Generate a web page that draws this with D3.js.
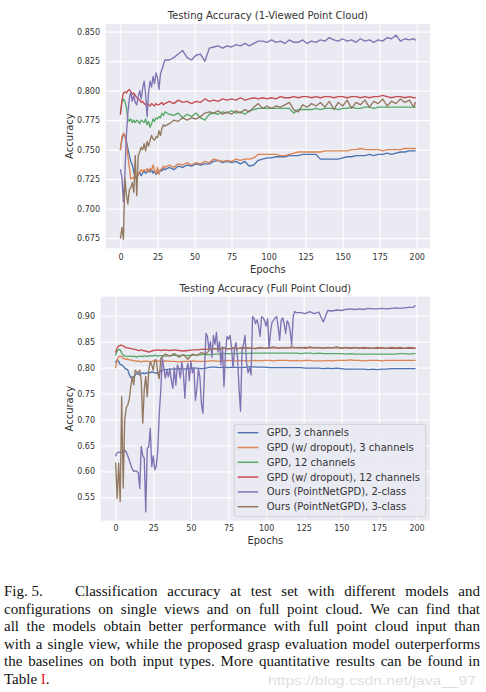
<!DOCTYPE html>
<html><head><meta charset="utf-8">
<script src="https://cdn.jsdelivr.net/npm/d3@7"></script>
<style>html,body{margin:0;padding:0;background:#fff;} svg{display:block;}</style>
</head><body>
<svg id="chart" width="486" height="692"></svg>
<script>
// ---------- DATA ----------
const epochs = [0,1,2,3,4,5,6,7,8,9,10,11,12,13,14,15,16,17,18,19,20,21,22,23,24,25,26,27,28,29,
  30,33,36,39,42,45,48,51,54,57,
  60,63,66,69,72,75,78,81,84,87,
  90,93,96,99,102,105,108,111,114,117,
  120,123,126,129,132,135,138,141,144,147,
  150,153,156,159,162,165,168,171,174,177,
  180,183,186,189,192,195,198,199];
// finer epoch grid for the very noisy 2-class curve (full point cloud)
const epochsFine = [0,1,2,3,4,5,6,7,8,9,10,11,12,13,14,15,16,17,18,19,20,21,22,23,24,25,26,27,28,29,
  30,31,32,33,34,35,36,37,38,39,40,41,42,43,44,45,46,47,48,49,
  50,51,52,53,54,55,56,57,58,59,60,61,62,63,64,65,66,67,68,69,
  70,71,72,73,74,75,76,77,78,79,80,81,82,83,84,85,86,87,88,89,
  90,91,92,93,94,95,96,97,98,99,100,101,102,103,104,105,106,107,108,109,
  110,111,112,113,114,115,116,117,118,119,120,
  123,126,129,132,135,138,141,144,147,
  150,153,156,159,162,165,168,171,174,177,
  180,183,186,189,192,195,198,199];

const seriesNames = ["GPD, 3 channels","GPD (w/ dropout), 3 channels","GPD, 12 channels",
  "GPD (w/ dropout), 12 channels","Ours (PointNetGPD), 2-class","Ours (PointNetGPD), 3-class"];
const seriesColors = ["#4C72B0","#DD8452","#55A868","#C44E52","#8172B3","#937860"];

// Top panel: 1-viewed point cloud
const topBlue = [0.750,0.759,0.763,0.762,0.757,0.751,0.745,0.740,0.737,0.731,0.727,0.725,0.729,0.731,0.728,0.730,0.732,0.730,0.731,0.733,0.731,0.733,0.730,0.732,0.729,0.731,0.730,0.733,0.732,0.734,
  0.733,0.735,0.733,0.736,0.735,0.737,0.736,0.738,0.737,0.738,
  0.738,0.740,0.741,0.739,0.740,0.739,0.740,0.738,0.740,0.736,
  0.737,0.741,0.742,0.743,0.743,0.744,0.744,0.744,0.745,0.745,
  0.745,0.746,0.746,0.746,0.746,0.742,0.742,0.742,0.742,0.742,
  0.743,0.744,0.744,0.745,0.745,0.745,0.746,0.745,0.746,0.746,
  0.747,0.746,0.747,0.748,0.748,0.749,0.749,0.749];
const topOrange = [0.750,0.761,0.764,0.762,0.756,0.745,0.735,0.725,0.726,0.726,0.728,0.726,0.729,0.731,0.733,0.731,0.733,0.732,0.734,0.731,0.734,0.733,0.737,0.732,0.730,0.735,0.729,0.733,0.734,0.736,
  0.735,0.737,0.735,0.738,0.737,0.739,0.737,0.739,0.738,0.740,
  0.739,0.742,0.741,0.740,0.741,0.740,0.742,0.741,0.742,0.742,
  0.743,0.746,0.746,0.746,0.746,0.746,0.745,0.745,0.746,0.747,
  0.748,0.748,0.748,0.748,0.748,0.748,0.749,0.749,0.749,0.749,
  0.749,0.749,0.750,0.750,0.751,0.750,0.750,0.750,0.750,0.749,
  0.750,0.750,0.750,0.750,0.751,0.751,0.751,0.751];
const topGreen = [0.781,0.790,0.793,0.791,0.786,0.776,0.774,0.776,0.773,0.775,0.773,0.775,0.774,0.772,0.775,0.774,0.773,0.776,0.771,0.774,0.769,0.772,0.776,0.774,0.777,0.776,0.778,0.777,0.781,0.779,
  0.782,0.780,0.779,0.781,0.777,0.780,0.778,0.781,0.777,0.775,
  0.780,0.781,0.780,0.782,0.781,0.783,0.781,0.782,0.780,0.783,
  0.784,0.785,0.785,0.785,0.785,0.785,0.785,0.785,0.785,0.781,
  0.784,0.784,0.784,0.784,0.785,0.784,0.785,0.785,0.785,0.784,
  0.785,0.785,0.786,0.785,0.785,0.786,0.786,0.785,0.786,0.786,
  0.786,0.786,0.786,0.786,0.786,0.786,0.786,0.786];
const topRed = [0.780,0.792,0.798,0.799,0.798,0.800,0.801,0.799,0.797,0.798,0.796,0.794,0.793,0.792,0.790,0.791,0.789,0.788,0.789,0.788,0.787,0.789,0.788,0.787,0.789,0.788,0.788,0.789,0.790,0.788,
  0.789,0.791,0.789,0.792,0.790,0.791,0.789,0.791,0.790,0.793,
  0.791,0.792,0.791,0.793,0.792,0.793,0.792,0.794,0.792,0.793,
  0.794,0.793,0.794,0.793,0.794,0.793,0.795,0.794,0.794,0.795,
  0.794,0.795,0.795,0.794,0.795,0.794,0.795,0.795,0.794,0.795,
  0.795,0.794,0.795,0.795,0.794,0.795,0.794,0.795,0.795,0.796,
  0.795,0.794,0.795,0.795,0.794,0.795,0.794,0.794];
const topPurple = [0.733,0.726,0.706,0.729,0.762,0.781,0.793,0.799,0.791,0.796,0.790,0.788,0.795,0.800,0.793,0.802,0.808,0.797,0.778,0.799,0.808,0.803,0.812,0.806,0.815,0.811,0.801,0.814,0.818,0.822,
  0.826,0.826,0.828,0.831,0.834,0.828,0.826,0.830,0.831,0.825,
  0.836,0.837,0.838,0.836,0.838,0.837,0.839,0.838,0.840,0.838,
  0.840,0.842,0.842,0.841,0.843,0.841,0.842,0.840,0.843,0.841,
  0.841,0.843,0.840,0.842,0.841,0.843,0.842,0.845,0.843,0.842,
  0.844,0.842,0.843,0.841,0.844,0.842,0.843,0.841,0.843,0.842,
  0.845,0.844,0.847,0.842,0.844,0.843,0.844,0.843];
const topBrown = [0.675,0.684,0.674,0.726,0.712,0.704,0.716,0.718,0.722,0.714,0.745,0.711,0.745,0.748,0.752,0.750,0.755,0.749,0.757,0.753,0.758,0.762,0.759,0.758,0.761,0.760,0.766,0.762,0.768,0.771,
  0.770,0.772,0.775,0.774,0.777,0.775,0.777,0.776,0.778,0.781,
  0.782,0.781,0.783,0.780,0.782,0.780,0.783,0.781,0.784,0.782,
  0.786,0.789,0.785,0.787,0.785,0.787,0.786,0.788,0.790,0.784,
  0.782,0.788,0.786,0.789,0.787,0.790,0.786,0.791,0.784,0.790,
  0.787,0.792,0.785,0.790,0.788,0.792,0.786,0.791,0.789,0.793,
  0.787,0.791,0.789,0.793,0.790,0.792,0.786,0.790];

// Bottom panel: full point cloud
const botBlue = [0.811,0.815,0.812,0.806,0.805,0.803,0.799,0.797,0.796,0.787,0.781,0.780,0.782,0.786,0.789,0.788,0.786,0.789,0.790,0.788,0.790,0.789,0.791,0.790,0.792,0.791,0.790,0.789,0.791,0.790,
  0.794,0.796,0.797,0.797,0.798,0.797,0.798,0.799,0.799,0.798,
  0.799,0.801,0.801,0.800,0.801,0.800,0.801,0.800,0.800,0.801,
  0.802,0.801,0.801,0.801,0.800,0.800,0.800,0.800,0.800,0.800,
  0.800,0.800,0.799,0.799,0.799,0.799,0.798,0.799,0.798,0.799,
  0.798,0.797,0.797,0.797,0.797,0.797,0.796,0.797,0.796,0.797,
  0.797,0.798,0.798,0.798,0.798,0.798,0.798,0.798];
const botOrange = [0.800,0.814,0.821,0.822,0.821,0.818,0.817,0.816,0.816,0.815,0.815,0.814,0.813,0.813,0.812,0.813,0.812,0.811,0.812,0.812,0.813,0.812,0.812,0.811,0.812,0.813,0.812,0.813,0.812,0.813,
  0.812,0.813,0.812,0.812,0.811,0.812,0.812,0.813,0.812,0.812,
  0.812,0.813,0.813,0.812,0.813,0.814,0.813,0.813,0.814,0.813,
  0.813,0.814,0.813,0.814,0.814,0.813,0.814,0.814,0.814,0.813,
  0.814,0.813,0.814,0.814,0.813,0.813,0.813,0.814,0.813,0.814,
  0.814,0.814,0.815,0.814,0.814,0.813,0.814,0.814,0.814,0.813,
  0.814,0.814,0.814,0.814,0.814,0.814,0.814,0.814];
const botGreen = [0.824,0.832,0.835,0.834,0.828,0.824,0.822,0.822,0.821,0.822,0.822,0.821,0.822,0.821,0.820,0.822,0.821,0.822,0.821,0.823,0.822,0.821,0.823,0.822,0.823,0.822,0.824,0.823,0.822,0.823,
  0.823,0.822,0.823,0.824,0.823,0.824,0.823,0.824,0.824,0.825,
  0.825,0.825,0.826,0.826,0.827,0.827,0.827,0.827,0.828,0.827,
  0.828,0.828,0.828,0.828,0.828,0.828,0.828,0.828,0.828,0.828,
  0.828,0.827,0.828,0.828,0.827,0.828,0.827,0.827,0.827,0.827,
  0.827,0.826,0.827,0.826,0.826,0.826,0.826,0.826,0.826,0.826,
  0.826,0.826,0.826,0.827,0.827,0.826,0.827,0.827];
const botRed = [0.830,0.838,0.842,0.843,0.843,0.842,0.840,0.838,0.838,0.837,0.837,0.836,0.835,0.835,0.834,0.833,0.833,0.834,0.833,0.832,0.832,0.831,0.830,0.831,0.832,0.833,0.833,0.834,0.833,0.834,
  0.833,0.834,0.833,0.834,0.833,0.832,0.833,0.834,0.834,0.835,
  0.835,0.836,0.836,0.837,0.837,0.836,0.837,0.837,0.837,0.838,
  0.837,0.837,0.838,0.837,0.838,0.838,0.838,0.838,0.838,0.838,
  0.838,0.838,0.839,0.838,0.838,0.838,0.838,0.838,0.838,0.838,
  0.838,0.838,0.837,0.838,0.838,0.837,0.838,0.837,0.837,0.838,
  0.837,0.837,0.837,0.837,0.837,0.837,0.837,0.837];
// on epochsFine
const botPurple = [0.630,0.636,0.637,0.636,0.637,0.635,0.641,0.638,0.630,0.622,0.613,0.605,0.600,0.601,0.600,0.598,0.567,0.648,0.630,0.626,0.522,0.644,0.647,0.683,0.609,0.630,0.603,0.610,0.641,0.712,
  0.757,0.818,0.800,0.780,0.795,0.782,0.798,0.775,0.760,0.800,
  0.766,0.805,0.798,0.780,0.810,0.790,0.741,0.795,0.808,0.775,
  0.812,0.790,0.800,0.737,0.760,0.798,0.780,0.730,0.712,0.790,
  0.866,0.860,0.835,0.850,0.820,0.862,0.845,0.868,0.830,0.850,
  0.805,0.840,0.763,0.830,0.860,0.855,0.862,0.840,0.800,0.835,
  0.848,0.820,0.760,0.716,0.832,0.845,0.862,0.810,0.790,0.800,
  0.786,0.898,0.895,0.885,0.892,0.880,0.860,0.898,0.896,0.890,
  0.880,0.894,0.837,0.870,0.888,0.891,0.896,0.898,0.880,0.853,
  0.890,0.896,0.885,0.866,0.890,0.885,0.870,0.843,0.898,0.908,
  0.906,
  0.906,0.904,0.908,0.904,0.907,0.888,0.910,0.909,0.911,
  0.910,0.912,0.913,0.912,0.913,0.912,0.914,0.913,0.913,0.914,
  0.913,0.914,0.915,0.914,0.915,0.916,0.916,0.919];
const botBrown = [0.616,0.548,0.616,0.542,0.744,0.568,0.699,0.722,0.728,0.738,0.763,0.783,0.767,0.795,0.792,0.790,0.795,0.776,0.693,0.757,0.783,0.744,0.795,0.811,0.805,0.795,0.815,0.815,0.789,0.779,
  0.818,0.826,0.822,0.827,0.820,0.825,0.816,0.826,0.823,0.829,
  0.826,0.836,0.837,0.835,0.838,0.836,0.838,0.836,0.839,0.837,
  0.838,0.836,0.839,0.837,0.838,0.840,0.837,0.839,0.838,0.840,
  0.838,0.839,0.837,0.840,0.838,0.839,0.837,0.839,0.838,0.840,
  0.837,0.839,0.838,0.839,0.837,0.839,0.838,0.837,0.839,0.838,
  0.837,0.839,0.838,0.839,0.837,0.839,0.838,0.838];

const xTicks = [0,25,50,75,100,125,150,175,200];
const topYTicks = [0.675,0.700,0.725,0.750,0.775,0.800,0.825,0.850];
const botYTicks = [0.55,0.60,0.65,0.70,0.75,0.80,0.85,0.90];
const topTitle = "Testing Accuracy (1-Viewed Point Cloud)";
const botTitle = "Testing Accuracy (Full Point Cloud)";
const xLabel = "Epochs";
const yLabel = "Accuracy";

const captionLines = [
  "configurations on single views and on full point cloud. We can find that",
  "all the models obtain better performance with full point cloud input than",
  "with a single view, while the proposed grasp evaluation model outerperforms",
  "the baselines on both input types. More quantitative results can be found in"
];
const captionHead = "Fig. 5.";
const captionFirst = "Classification accuracy at test set with different models and";
const watermark = "https://blog.csdn.net/java__97";

// ---------- DRAW ----------
const svg = d3.select("#chart");
const SANS = "'DejaVu Sans', sans-serif";
const SERIF = "'Liberation Serif', 'Times New Roman', serif";
const TXT = "#333333";

function drawPanel(p) {
  const g = svg.append("g");
  const x = d3.scaleLinear().domain([-9.95, 208.95]).range([p.left, p.right]);
  const y = d3.scaleLinear().domain(p.yDomain).range([p.bottom, p.top]);
  g.append("rect").attr("x", p.left).attr("y", p.top)
    .attr("width", p.right - p.left).attr("height", p.bottom - p.top).attr("fill", "#EAEAF2");

  const xa = g.append("g").attr("transform", `translate(0,${p.bottom})`)
    .call(d3.axisBottom(x).tickValues(xTicks).tickFormat(d3.format("d"))
      .tickSize(-(p.bottom - p.top)).tickPadding(p.xPad));
  const ya = g.append("g").attr("transform", `translate(${p.left},0)`)
    .call(d3.axisLeft(y).tickValues(p.yTicks).tickFormat(d3.format(p.yFmt))
      .tickSize(-(p.right - p.left)).tickPadding(5.7));
  [xa, ya].forEach(a => {
    a.select(".domain").remove();
    a.selectAll("line").attr("stroke", "#ffffff").attr("stroke-width", 1.1);
    a.selectAll("text").attr("fill", TXT).style("font-family", SANS).style("font-size", "8px");
  });

  const clipId = "clip" + p.id;
  svg.append("clipPath").attr("id", clipId).append("rect")
    .attr("x", p.left).attr("y", p.top).attr("width", p.right - p.left).attr("height", p.bottom - p.top);
  const lg = g.append("g").attr("clip-path", `url(#${clipId})`);
  p.series.forEach((s, i) => {
    const xs = s.x || epochs;
    const vals = s.y || s;
    const line = d3.line().x((d, k) => x(xs[k])).y(d => y(d));
    lg.append("path").datum(vals).attr("d", line).attr("fill", "none")
      .attr("stroke", seriesColors[i]).attr("stroke-width", 1.35)
      .attr("stroke-linejoin", "round").attr("stroke-linecap", "round");
  });

  g.append("text").attr("x", (p.left + p.right) / 2).attr("y", p.titleY)
    .attr("text-anchor", "middle").attr("dominant-baseline", "central")
    .attr("fill", TXT).style("font-family", SANS).style("font-size", "10px").text(p.title);
  g.append("text").attr("x", (p.left + p.right) / 2).attr("y", p.xLabelY)
    .attr("text-anchor", "middle").attr("dominant-baseline", "central")
    .attr("fill", TXT).style("font-family", SANS).style("font-size", "10px").text(xLabel);
  g.append("text").attr("transform", `translate(69.5,${(p.top + p.bottom) / 2}) rotate(-90)`)
    .attr("text-anchor", "middle").attr("dominant-baseline", "central")
    .attr("fill", TXT).style("font-family", SANS).style("font-size", "10px").text(yLabel);
  return { g, x, y };
}

drawPanel({ id: "t", left: 105.7, right: 430, top: 24, bottom: 248.3,
  yDomain: [0.6664, 0.8565], yTicks: topYTicks, yFmt: ".3f", xPad: 6.5,
  series: [topBlue, topOrange, topGreen, topRed, topPurple, topBrown],
  title: topTitle, titleY: 15, xLabelY: 269.3 });

drawPanel({ id: "b", left: 100.7, right: 430, top: 296.7, bottom: 520.7,
  yDomain: [0.505, 0.9366], yTicks: botYTicks, yFmt: ".2f", xPad: 5,
  series: [botBlue, botOrange, botGreen, botRed, { x: epochsFine, y: botPurple }, botBrown],
  title: botTitle, titleY: 288.3, xLabelY: 540.5 });

// legend
const leg = svg.append("g");
leg.append("rect").attr("x", 234.3).attr("y", 424.3).attr("width", 191.4).attr("height", 92.4)
  .attr("rx", 3).attr("fill", "#EAEAF2").attr("fill-opacity", 0.8)
  .attr("stroke", "#cccccc").attr("stroke-width", 0.8);
seriesNames.forEach((n, i) => {
  const yy = 432.7 + i * 14.8;
  leg.append("line").attr("x1", 237.7).attr("x2", 258.3).attr("y1", yy).attr("y2", yy)
    .attr("stroke", seriesColors[i]).attr("stroke-width", 1.5);
  leg.append("text").attr("x", 266.7).attr("y", yy).attr("dominant-baseline", "central")
    .attr("fill", TXT).style("font-family", SANS).style("font-size", "10px").text(n);
});

// caption
const CAP = 15, LEFT = 4, RIGHT = 480;
const baselines = [596, 613.5, 631, 648.5, 666, 683.5];
const cap = svg.append("g").style("font-family", SERIF).style("font-size", CAP + "px").attr("fill", "#111");
function justify(text, x0, x1, yb) {
  const words = text.split(" ");
  const nodes = words.map(w => cap.append("text").attr("y", yb).text(w));
  const widths = nodes.map(n => n.node().getComputedTextLength());
  const total = widths.reduce((a, b) => a + b, 0);
  const gap = (x1 - x0 - total) / (words.length - 1);
  let cx = x0;
  nodes.forEach((n, i) => { n.attr("x", cx); cx += widths[i] + gap; });
}
cap.append("text").attr("x", LEFT).attr("y", baselines[0]).text(captionHead);
justify(captionFirst, 75, RIGHT, baselines[0]);
captionLines.forEach((l, i) => justify(l, LEFT, RIGHT, baselines[i + 1]));
const last = cap.append("text").attr("x", LEFT).attr("y", baselines[5]);
last.append("tspan").text("Table ");
last.append("tspan").attr("fill", "#e8202a").text("I");
last.append("tspan").text(".");

// watermark
svg.append("text").attr("x", 268).attr("y", 684.5).attr("textLength", 208)
  .attr("lengthAdjust", "spacingAndGlyphs")
  .style("font-family", "'Liberation Sans', Arial, sans-serif").style("font-size", "13.5px")
  .attr("fill", "#d9d9d9").attr("fill-opacity", 0.85).text(watermark);
</script>
</body></html>
